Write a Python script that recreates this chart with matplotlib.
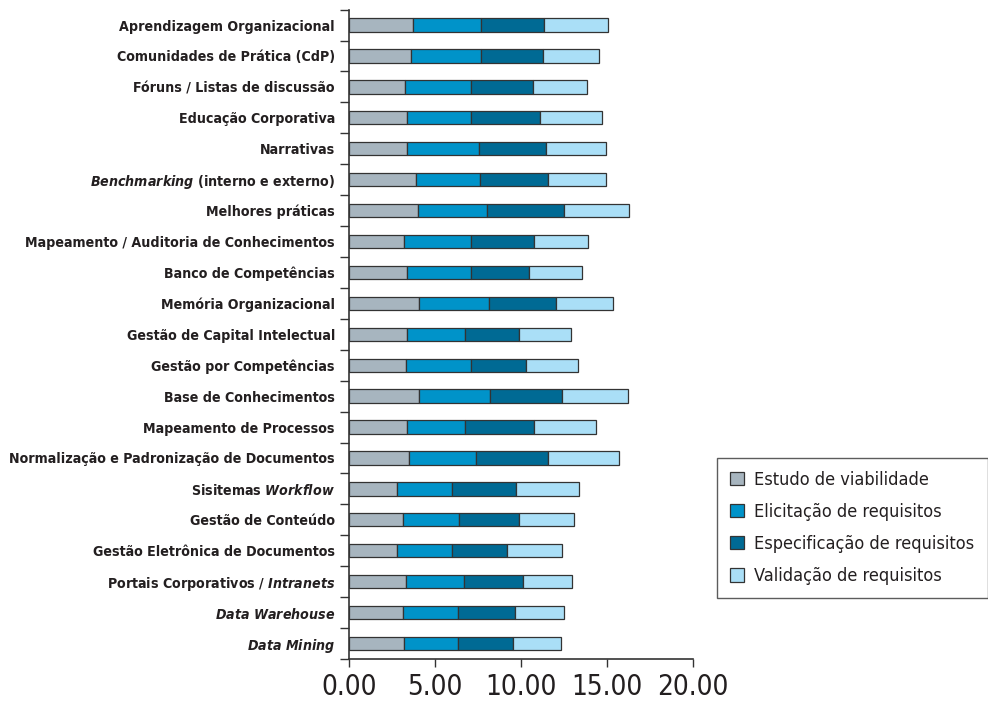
import numpy as np
import matplotlib.pyplot as plt
from matplotlib.patches import Patch

plt.rcParams['font.family'] = ['DejaVu Sans']
plt.rcParams['font.stretch'] = 'condensed'
plt.rcParams['mathtext.fontset'] = 'custom'
plt.rcParams['mathtext.it'] = 'DejaVu Sans:italic:bold:stretch=condensed'
plt.rcParams['mathtext.rm'] = 'DejaVu Sans:bold:stretch=condensed'

# categorias (de cima para baixo)
categorias = [
    "Aprendizagem Organizacional",
    "Comunidades de Prática (CdP)",
    "Fóruns / Listas de discussão",
    "Educação Corporativa",
    "Narrativas",
    r"$\mathit{Benchmarking}$ (interno e externo)",
    "Melhores práticas",
    "Mapeamento / Auditoria de Conhecimentos",
    "Banco de Competências",
    "Memória Organizacional",
    "Gestão de Capital Intelectual",
    "Gestão por Competências",
    "Base de Conhecimentos",
    "Mapeamento de Processos",
    "Normalização e Padronização de Documentos",
    r"Sisitemas $\mathit{Workflow}$",
    "Gestão de Conteúdo",
    "Gestão Eletrônica de Documentos",
    r"Portais Corporativos / $\mathit{Intranets}$",
    r"$\mathit{Data\ Warehouse}$",
    r"$\mathit{Data\ Mining}$",
]

estudo = [3.71, 3.61, 3.25, 3.38, 3.40, 3.90, 4.04, 3.21, 3.38, 4.06, 3.38,
          3.31, 4.08, 3.40, 3.48, 2.82, 3.15, 2.80, 3.33, 3.15, 3.21]
elicitacao = [3.96, 4.06, 3.84, 3.71, 4.20, 3.76, 4.02, 3.88, 3.71, 4.08, 3.37,
              3.81, 4.16, 3.37, 3.93, 3.17, 3.29, 3.21, 3.36, 3.21, 3.13]
especificacao = [3.68, 3.62, 3.62, 4.05, 3.87, 3.94, 4.45, 3.68, 3.37, 3.91, 3.13,
                 3.19, 4.17, 4.00, 4.19, 3.74, 3.44, 3.19, 3.46, 3.29, 3.23]
validacao = [3.75, 3.25, 3.13, 3.61, 3.51, 3.35, 3.79, 3.13, 3.09, 3.34, 3.04,
             3.01, 3.81, 3.62, 4.12, 3.67, 3.21, 3.21, 2.86, 2.86, 2.80]

series = [
    ("Estudo de viabilidade", estudo, "#a7b5bf"),
    ("Elicitação de requisitos", elicitacao, "#0093c9"),
    ("Especificação de requisitos", especificacao, "#006a94"),
    ("Validação de requisitos", validacao, "#aadff7"),
]

fig = plt.figure(figsize=(9.88, 7.02), dpi=100)
ax = fig.add_axes([0.353, 0.0613, 0.348, 0.925])

y = np.arange(len(categorias))
left = np.zeros(len(categorias))
for nome, vals, cor in series:
    vals = np.array(vals)
    ax.barh(y, vals, left=left, height=0.43, color=cor,
            edgecolor="#333333", linewidth=0.9, label=nome)
    left += vals

ax.set_ylim(len(categorias) - 0.5, -0.5)
ax.set_xlim(0, 20)
ax.set_yticks(y)
ax.set_yticklabels(categorias, fontsize=10.2, fontweight="bold", color="#231f20")
ax.set_yticks(np.arange(len(categorias) + 1) - 0.5, minor=True)
ax.tick_params(axis="y", which="major", length=0, pad=10)
ax.tick_params(axis="y", which="minor", length=6.5, width=1, color="#333333")

ax.set_xticks([0, 5, 10, 15, 20])
ax.set_xticklabels(["0.00", "5.00", "10.00", "15.00", "20.00"])
ax.tick_params(axis="x", length=6, width=1, labelsize=20, color="#333333",
               labelcolor="#231f20", pad=4)

for s in ["top", "right"]:
    ax.spines[s].set_visible(False)
for s in ["left", "bottom"]:
    ax.spines[s].set_color("#333333")
    ax.spines[s].set_linewidth(1.2)

handles = [Patch(facecolor=c, edgecolor="#333333", linewidth=0.9, label=n)
           for n, _, c in series]
leg = fig.legend(handles=handles, loc="upper left",
                 bbox_to_anchor=(717 / 988, 1 - 458 / 702),
                 fontsize=13, frameon=True, fancybox=False,
                 edgecolor="#333333", handlelength=0.75, handleheight=0.75,
                 handletextpad=0.6, labelspacing=0.78, borderpad=0.72,
                 borderaxespad=0)
leg.get_frame().set_linewidth(1.0)
for t in leg.get_texts():
    t.set_color("#231f20")

fig.savefig("out.png", dpi=100)
